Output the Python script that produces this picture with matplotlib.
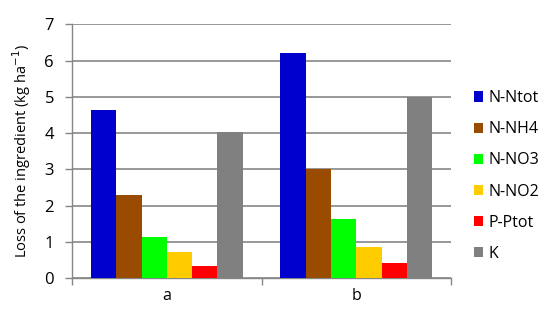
import matplotlib
matplotlib.use("Agg")
import matplotlib.pyplot as plt
import numpy as np
from matplotlib.patches import Patch

plt.rcParams['font.family'] = ['Open Sans', 'DejaVu Sans']

categories = ['a', 'b']
series = ['N-Ntot', 'N-NH4', 'N-NO3', 'N-NO2', 'P-Ptot', 'K']
values = {
    'N-Ntot': [4.64, 6.21],
    'N-NH4': [2.28, 3.00],
    'N-NO3': [1.14, 1.63],
    'N-NO2': [0.73, 0.87],
    'P-Ptot': [0.32, 0.41],
    'K': [4.03, 5.01],
}
colors = ['#0000CC', '#994C00', '#00FF00', '#FFCC00', '#FF0000', '#808080']

fig = plt.figure(figsize=(5.5, 3.26), dpi=100)
ax = fig.add_axes([0.131, 0.147, 0.689, 0.778])

x = np.arange(len(categories))
n = len(series)
group_w = 0.8
bw = group_w / n
for i, (s, c) in enumerate(zip(series, colors)):
    offs = -group_w / 2 + bw * (i + 0.5)
    ax.bar(x + offs, values[s], width=bw, color=c, label=s, zorder=3)

ax.set_xlim(-0.5, len(categories) - 0.5)
ax.set_ylim(0, 7)
ax.set_yticks(range(0, 8))
ax.yaxis.grid(True, color='#868686', linewidth=1.2, zorder=0)
ax.set_axisbelow(True)

ax.set_xticks(x)
ax.set_xticklabels(categories)
ax.set_xticks(np.arange(-0.5, len(categories), 1.0), minor=True)
ax.tick_params(axis='x', which='major', length=0, pad=7, labelsize=11.5)
ax.tick_params(axis='x', which='minor', length=5, color='#868686', width=1)
ax.tick_params(axis='y', length=5, color='#868686', width=1, labelsize=12, pad=8)

for sp in ['top', 'right']:
    ax.spines[sp].set_visible(False)
for sp in ['left', 'bottom']:
    ax.spines[sp].set_color('#868686')
    ax.spines[sp].set_linewidth(1)

ax.set_ylabel('Loss of the ingredient (kg ha$^{-1}$)', fontsize=10.5, labelpad=8)

handles = [Patch(facecolor=c, label=s) for s, c in zip(series, colors)]
leg = fig.legend(handles=handles, loc='center left', bbox_to_anchor=(0.835, 0.46),
                 frameon=False, fontsize=11.5, handlelength=0.6, handleheight=0.6,
                 handletextpad=0.35, labelspacing=0.95)

fig.savefig('out.png', dpi=100)
